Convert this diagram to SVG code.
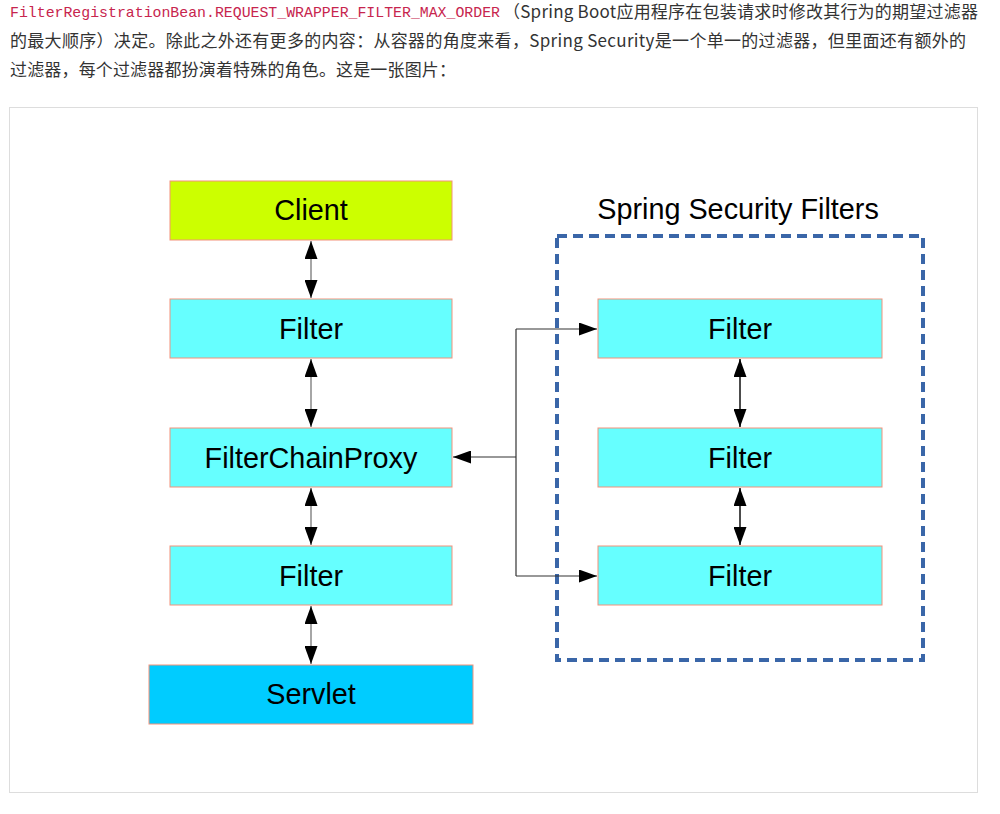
<svg xmlns="http://www.w3.org/2000/svg" width="1000" height="814" viewBox="0 0 1000 814">
<style>
.t{font-family:"Noto Sans CJK SC","Liberation Sans",sans-serif;font-size:17px;fill:#333}
.code{font-family:"Liberation Mono",monospace;font-size:14.8px;fill:#c7254e}
.box{stroke:#f4917a;stroke-width:1}
.lbl{font-family:"Liberation Sans",Arial,sans-serif;font-size:28.8px;fill:#000;text-anchor:middle}
.v{stroke:#888;stroke-width:1.5;fill:none}
.vb{stroke:#111;stroke-width:1.5;fill:none}
.h{stroke:#333;stroke-width:1.2;fill:none}
</style>
<defs>
<marker id="ah" markerUnits="userSpaceOnUse" markerWidth="18" markerHeight="13" refX="18" refY="6.5" orient="auto-start-reverse" viewBox="0 0 18 13">
<path d="M0,0 L18,6.5 L0,13 z" fill="#000"/>
</marker>
</defs>
<rect width="1000" height="814" fill="#fff"/>
<g id="text">
<text class="code" x="10" y="17" textLength="490" lengthAdjust="spacingAndGlyphs">FilterRegistrationBean.REQUEST_WRAPPER_FILTER_MAX_ORDER</text>
<text class="t" x="503" y="18" textLength="475">（Spring Boot应用程序在包装请求时修改其行为的期望过滤器</text>
<text class="t" x="10" y="47" textLength="956">的最大顺序）决定。除此之外还有更多的内容：从容器的角度来看，Spring Security是一个单一的过滤器，但里面还有额外的</text>
<text class="t" x="10" y="76" textLength="446">过滤器，每个过滤器都扮演着特殊的角色。这是一张图片：</text>
</g>
<rect x="9.5" y="107.5" width="968" height="685" fill="#fff" stroke="#ddd" stroke-width="1"/>
<g id="group-security">
<rect x="557" y="236" width="366" height="424" fill="none" stroke="#3a66a8" stroke-width="4" stroke-dasharray="10,6"/>
<text class="lbl" x="738" y="219">Spring Security Filters</text>
</g>
<g id="connectors">
<line class="v" x1="311" y1="241" x2="311" y2="298" marker-start="url(#ah)" marker-end="url(#ah)"/>
<line class="v" x1="311" y1="359" x2="311" y2="427" marker-start="url(#ah)" marker-end="url(#ah)"/>
<line class="v" x1="311" y1="488" x2="311" y2="545" marker-start="url(#ah)" marker-end="url(#ah)"/>
<line class="v" x1="311" y1="606" x2="311" y2="664" marker-start="url(#ah)" marker-end="url(#ah)"/>
<line class="vb" x1="740" y1="359" x2="740" y2="427" marker-start="url(#ah)" marker-end="url(#ah)"/>
<line class="vb" x1="740" y1="488" x2="740" y2="545" marker-start="url(#ah)" marker-end="url(#ah)"/>
<polyline class="h" points="516,329 516,576"/>
<line class="h" x1="516" y1="329" x2="597" y2="329" marker-end="url(#ah)"/>
<line class="h" x1="516" y1="576" x2="597" y2="576" marker-end="url(#ah)"/>
<line class="h" x1="516" y1="457" x2="453" y2="457" marker-end="url(#ah)"/>
</g>
<g id="client"><rect class="box" x="170" y="181" width="282" height="59" fill="#ccff00"/><text class="lbl" x="311" y="220">Client</text></g>
<g id="filter1"><rect class="box" x="170" y="299" width="282" height="59" fill="#66ffff"/><text class="lbl" x="311" y="339">Filter</text></g>
<g id="fcp"><rect class="box" x="170" y="428" width="282" height="59" fill="#66ffff"/><text class="lbl" x="311" y="468">FilterChainProxy</text></g>
<g id="filter2"><rect class="box" x="170" y="546" width="282" height="59" fill="#66ffff"/><text class="lbl" x="311" y="586">Filter</text></g>
<g id="servlet"><rect class="box" x="149" y="665" width="324" height="59" fill="#00ccff"/><text class="lbl" x="311" y="704">Servlet</text></g>
<g id="sfilter1"><rect class="box" x="598" y="299" width="284" height="59" fill="#66ffff"/><text class="lbl" x="740" y="339">Filter</text></g>
<g id="sfilter2"><rect class="box" x="598" y="428" width="284" height="59" fill="#66ffff"/><text class="lbl" x="740" y="468">Filter</text></g>
<g id="sfilter3"><rect class="box" x="598" y="546" width="284" height="59" fill="#66ffff"/><text class="lbl" x="740" y="586">Filter</text></g>
</svg>
